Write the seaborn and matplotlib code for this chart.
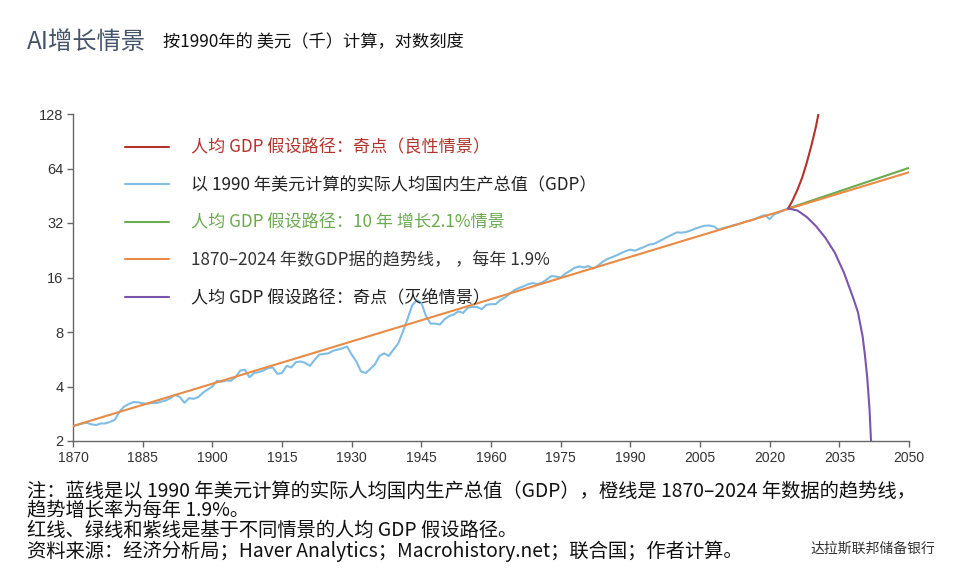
import matplotlib
matplotlib.use("Agg")
import matplotlib.pyplot as plt
import numpy as np
import pandas as pd
import seaborn as sns

# ---------------- data ----------------
blue_years = list(range(1870, 2025))
blue_values = [
    2.42, 2.45, 2.50, 2.52, 2.47, 2.45, 2.50, 2.50, 2.55, 2.62,   # 1870s
    2.90, 3.10, 3.20, 3.28, 3.27, 3.23, 3.21, 3.25, 3.24, 3.30,   # 1880s
    3.35, 3.45, 3.60, 3.50, 3.25, 3.45, 3.42, 3.50, 3.70, 3.85,   # 1890s
    4.00, 4.30, 4.25, 4.32, 4.30, 4.50, 4.90, 4.95, 4.50, 4.75,   # 1900s
    4.80, 4.90, 5.05, 5.10, 4.70, 4.75, 5.20, 5.10, 5.45, 5.50,   # 1910s
    5.40, 5.20, 5.60, 6.00, 6.05, 6.10, 6.30, 6.40, 6.50, 6.65,   # 1920s
    6.00, 5.50, 4.85, 4.75, 5.00, 5.30, 5.90, 6.10, 5.90, 6.40,   # 1930s
    6.90, 8.00, 9.40, 11.20, 12.00, 11.60, 9.80, 8.90, 8.90, 8.80,  # 1940s
    9.40, 9.80, 10.00, 10.40, 10.20, 10.90, 11.00, 11.00, 10.70, 11.30,  # 1950s
    11.40, 11.40, 12.00, 12.40, 13.00, 13.60, 14.00, 14.30, 14.70, 14.90,  # 1960s
    14.70, 15.00, 15.60, 16.30, 16.20, 16.00, 16.80, 17.40, 18.10, 18.40,  # 1970s
    18.20, 18.50, 17.90, 18.60, 19.50, 20.20, 20.70, 21.20, 21.80, 22.40,  # 1980s
    22.80, 22.50, 23.10, 23.60, 24.30, 24.50, 25.20, 26.00, 26.80, 27.60,  # 1990s
    28.40, 28.30, 28.50, 29.10, 29.80, 30.40, 30.90, 31.00, 30.60, 29.40,  # 2000s
    30.00, 30.40, 31.00, 31.40, 32.00, 32.70, 33.10, 33.80, 34.70, 35.40,  # 2010s
    33.60, 35.80, 36.60, 37.60, 38.50,                                   # 2020s
]

trend_years = [1870, 2050]
trend_values = [2.42, 61.0]

green_years = [2024, 2050]
green_values = [38.5, 64.5]

red_years = [2024, 2025, 2026, 2027, 2028, 2029, 2030, 2030.6]
red_values = [38.5, 43.0, 49.0, 57.0, 69.0, 86.0, 110.0, 132.0]

purple_years = [2024, 2026, 2028, 2030, 2032, 2034, 2036, 2038, 2039,
                2040, 2040.5, 2041, 2041.5, 2041.8, 2041.95]
purple_values = [38.5, 37.5, 34.5, 30.7, 26.5, 22.0, 17.0, 12.3, 10.3,
                 7.6, 6.0, 4.5, 3.0, 2.05, 1.85]

x_ticks = list(range(1870, 2051, 15))
y_ticks = [2, 4, 8, 16, 32, 64, 128]

labels = {
    "red": "人均 GDP 假设路径：奇点（良性情景）",
    "blue": "以 1990 年美元计算的实际人均国内生产总值（GDP）",
    "green": "人均 GDP 假设路径：10 年 增长2.1%情景",
    "orange": "1870–2024 年数GDP据的趋势线， ，每年 1.9%",
    "purple": "人均 GDP 假设路径：奇点（灭绝情景）",
}

colors = {
    "red": "#b3332c",
    "blue": "#7fbde3",
    "green": "#6aab4f",
    "orange": "#e98a45",
    "purple": "#7b55ac",
}
label_colors = {
    "red": "#b3332c",
    "blue": "#222222",
    "green": "#6aab4f",
    "orange": "#333333",
    "purple": "#222222",
}

# ---------------- plot ----------------
sns.set_theme(style="white")
plt.rcParams["font.family"] = ["Noto Sans CJK SC", "DejaVu Sans"]

fig = plt.figure(figsize=(9.6, 5.72), dpi=100, facecolor="white")
ax = fig.add_axes([73 / 960, 1 - 441 / 572, 836 / 960, 327 / 572])

lw = 1.5
sns.lineplot(x=blue_years, y=blue_values, ax=ax, color=colors["blue"], lw=lw,
             label=labels["blue"], zorder=2)
sns.lineplot(x=green_years, y=green_values, ax=ax, color=colors["green"], lw=lw,
             label=labels["green"], zorder=3)
sns.lineplot(x=trend_years, y=trend_values, ax=ax, color=colors["orange"], lw=lw,
             label=labels["orange"], zorder=4)
sns.lineplot(x=red_years, y=red_values, ax=ax, color=colors["red"], lw=lw,
             label=labels["red"], zorder=5)
sns.lineplot(x=purple_years, y=purple_values, ax=ax, color=colors["purple"], lw=lw,
             label=labels["purple"], zorder=5)

ax.set_yscale("log", base=2)
ax.set_ylim(2, 128)
ax.set_xlim(1870, 2050)
ax.set_yticks(y_ticks)
ax.set_yticklabels([str(v) for v in y_ticks])
ax.yaxis.set_minor_locator(matplotlib.ticker.NullLocator())
ax.set_xticks(x_ticks)
ax.set_xticklabels([str(v) for v in x_ticks])
ax.set_xlabel("")
ax.set_ylabel("")

for s in ["top", "right"]:
    ax.spines[s].set_visible(False)
for s in ["left", "bottom"]:
    ax.spines[s].set_color("#666666")
    ax.spines[s].set_linewidth(1.0)

ax.tick_params(axis="both", which="major", direction="out", length=4, width=1,
               color="#666666", labelcolor="#333333", pad=3,
               left=True, bottom=True, labelfontfamily="Liberation Sans")
ax.tick_params(axis="y", labelsize=10.5)
ax.tick_params(axis="x", labelsize=10)

# legend
order = ["red", "blue", "green", "orange", "purple"]
handles, labs = ax.get_legend_handles_labels()
hmap = dict(zip(labs, handles))
leg = ax.legend([hmap[labels[k]] for k in order], [labels[k] for k in order],
                loc="upper left", bbox_to_anchor=(0.062, 0.925), frameon=False,
                fontsize=12.3, handlelength=2.6, handletextpad=1.3,
                labelspacing=1.15, borderpad=0, borderaxespad=0)
for txt, k in zip(leg.get_texts(), order):
    txt.set_color(label_colors[k])

# titles
fig.text(27 / 960, 1 - 42 / 572, "AI增长情景", fontsize=17.5, color="#44546a",
         va="center", ha="left")
fig.text(163 / 960, 1 - 42 / 572, "按1990年的 美元（千）计算，对数刻度", fontsize=12.4,
         color="#111111", va="center", ha="left")

# notes
notes = [
    ("注：蓝线是以 1990 年美元计算的实际人均国内生产总值（GDP），橙线是 1870–2024 年数据的趋势线，", 491),
    ("趋势增长率为每年 1.9%。", 510),
    ("红线、绿线和紫线是基于不同情景的人均 GDP 假设路径。", 530),
    ("资料来源：经济分析局；Haver Analytics；Macrohistory.net；联合国；作者计算。", 551),
]
for txt, ypx in notes:
    fig.text(27 / 960, 1 - ypx / 572, txt, fontsize=13.9, color="#111111",
             va="center", ha="left")

fig.text(935 / 960, 1 - 549 / 572, "达拉斯联邦储备银行", fontsize=10, color="#333333",
         va="center", ha="right")

fig.savefig("out.png", dpi=100, facecolor="white")
